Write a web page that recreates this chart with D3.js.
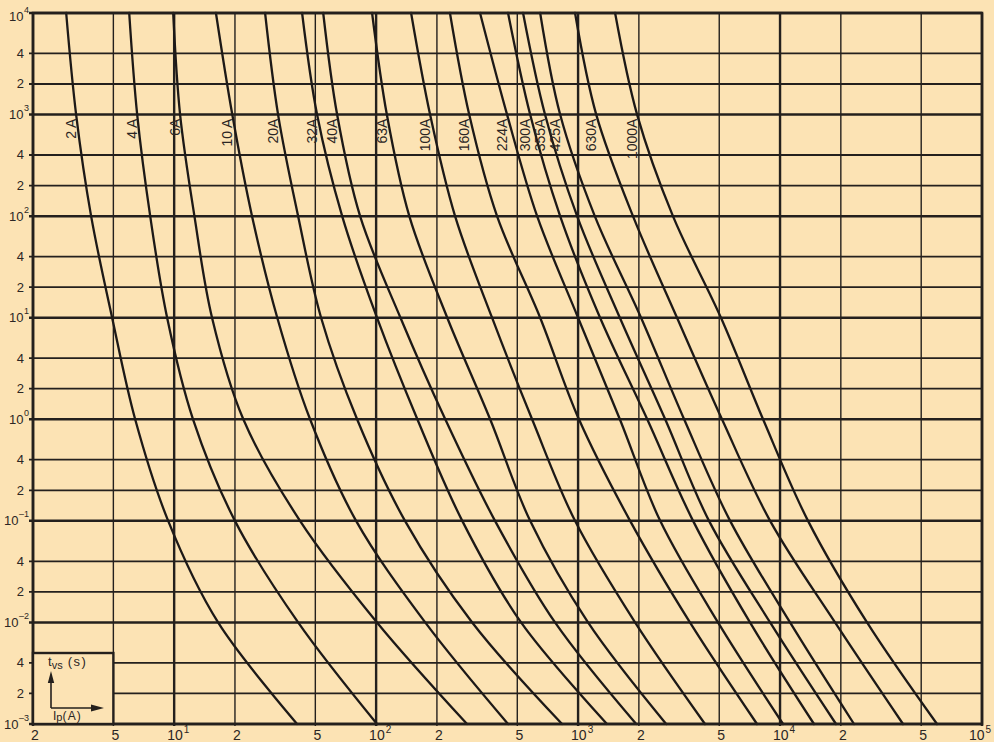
<!DOCTYPE html>
<html>
<head>
<meta charset="utf-8">
<script src="https://cdn.jsdelivr.net/npm/d3@7"></script>
<style>
  html, body { margin: 0; padding: 0; background: #fce3b4; }
  svg { display: block; }
  .lbl { font-family: "Liberation Sans", Arial, sans-serif; fill: #2b2624; }
  .curve { fill: none; stroke: #1d1917; stroke-width: 2.3; stroke-linejoin: round; stroke-linecap: round; }
</style>
</head>
<body>
<div id="chart"></div>
<script>
var times = [1e4, 1e3, 1e2, 1e1, 1, 0.1, 0.01, 0.001];

// prearcing current (A) of each fuse at those times
var fuse2A    = [2.92, 3.27, 3.88, 4.93, 6.41, 9.34, 16.5, 40.6];
var fuse4A    = [5.99, 6.56, 7.61, 9.23, 12.4, 20.0, 41.1, 101];
var fuse6A    = [9.89, 10.7, 12.6, 15.4, 22.0, 42.0, 101, 282];
var fuse10A   = [16.1, 19.4, 24.3, 32.4, 47.1, 79.6, 175, 450];
var fuse20A   = [28.2, 32.7, 41.1, 53.4, 80.5, 139, 299, 833];
var fuse32A   = [43.0, 51.0, 67.9, 101, 160, 267, 522, 1390];
var fuse40A   = [54.7, 64.1, 83.3, 132, 220, 388, 769, 1940];
var fuse63A   = [95.5, 113, 146, 225, 367, 579, 1120, 2730];
var fuse100A  = [149, 185, 246, 375, 592, 966, 1915, 4250];
var fuse160A  = [232, 289, 397, 649, 1010, 1810, 3580, 7690];
var fuse224A  = [327, 445, 627, 1000, 1610, 2550, 4930, 10350];
var fuse300A  = [450, 579, 815, 1285, 2200, 3710, 7100, 14730];
var fuse355A  = [534, 686, 989, 1610, 2700, 4450, 8930, 18930];
var fuse425A  = [649, 815, 1210, 2050, 3350, 5660, 11210, 23240];
var fuse630A  = [966, 1230, 1870, 3090, 5160, 8930, 18720, 40630];
var fuse1000A = [1525, 1960, 2950, 5100, 8240, 13760, 26960, 59880];

var ratings = ["2 A", "4 A", "6A", "10 A", "20A", "32A", "40A", "63A", "100A",
               "160A", "224A", "300A", "355A", "425A", "630A", "1000A"];
var fuseValues = [fuse2A, fuse4A, fuse6A, fuse10A, fuse20A, fuse32A, fuse40A, fuse63A, fuse100A,
                  fuse160A, fuse224A, fuse300A, fuse355A, fuse425A, fuse630A, fuse1000A];

// grid / tick values
var xGrid = [2, 5, 10, 20, 50, 100, 200, 500, 1000, 2000, 5000, 1e4, 2e4, 5e4, 1e5];
var yGrid = [1e-3, 2e-3, 4e-3, 1e-2, 2e-2, 4e-2, 1e-1, 2e-1, 4e-1, 1, 2, 4,
             10, 20, 40, 100, 200, 400, 1000, 2000, 4000, 1e4];

drawChart();

function drawChart() {
  var width = 994, height = 742;
  var left = 33, right = 982, top = 13, bottom = 724;
  var ink = "#24201d";

  var svg = d3.select("#chart").append("svg")
    .attr("width", width).attr("height", height);

  svg.append("rect").attr("width", width).attr("height", height).attr("fill", "#fce3b4");

  var x = d3.scaleLog().domain([2, 1e5]).range([left, right]);
  var y = d3.scaleLog().domain([1e-3, 1e4]).range([bottom, top]);

  function isDecade(v) {
    var e = Math.log10(v);
    return Math.abs(e - Math.round(e)) < 1e-6;
  }
  function expOf(v) { return Math.round(Math.log10(v)); }
  function mant(v) { return Math.round(v / Math.pow(10, Math.floor(Math.log10(v) + 1e-9))); }

  // vertical grid
  svg.append("g").selectAll("line").data(xGrid).enter().append("line")
    .attr("x1", function(d) { return x(d); })
    .attr("x2", function(d) { return x(d); })
    .attr("y1", top).attr("y2", bottom + 2)
    .attr("stroke", ink)
    .attr("stroke-width", function(d) { return (isDecade(d) || d === 2) ? 2.4 : 1.4; });

  // horizontal grid
  svg.append("g").selectAll("line").data(yGrid).enter().append("line")
    .attr("x1", left - 4).attr("x2", right)
    .attr("y1", function(d) { return y(d); })
    .attr("y2", function(d) { return y(d); })
    .attr("stroke", ink)
    .attr("stroke-width", function(d) { return isDecade(d) ? 2.5 : 1.8; });

  // fuse curves
  var line = d3.line()
    .x(function(d) { return x(d[0]); })
    .y(function(d) { return y(d[1]); })
    .curve(d3.curveCatmullRom.alpha(0.5));

  var series = ratings.map(function(r, k) {
    return { name: r, pts: fuseValues[k].map(function(v, j) { return [v, times[j]]; }) };
  });

  svg.append("g").selectAll("path").data(series).enter().append("path")
    .attr("class", "curve")
    .attr("d", function(d) { return line(d.pts); });

  // rating labels, written upwards just under the 10^3 line, left of each curve
  svg.append("g").selectAll("text").data(series).enter().append("text")
    .attr("class", "lbl")
    .attr("font-size", 14)
    .attr("text-anchor", "end")
    .attr("dy", "0.35em")
    .attr("transform", function(d) {
      return "translate(" + (x(d.pts[1][0]) - 5) + "," + (y(1e3) + 4) + ") rotate(-90)";
    })
    .text(function(d) { return d.name; });

  // x tick labels
  var xl = svg.append("g").selectAll("text").data(xGrid).enter().append("text")
    .attr("class", "lbl")
    .attr("font-size", 14)
    .attr("y", 740)
    .attr("x", function(d) { return isDecade(d) ? x(d) - (d === 1e5 ? 13 : 7) : x(d) + 2; })
    .attr("text-anchor", function(d) { return isDecade(d) ? "start" : "middle"; });
  xl.each(function(d) {
    var t = d3.select(this);
    if (isDecade(d)) {
      t.append("tspan").text("10");
      t.append("tspan").attr("font-size", 10).attr("dx", 1).attr("dy", -7).text(expOf(d));
    } else {
      t.text(mant(d));
    }
  });

  // y tick labels
  var yl = svg.append("g").selectAll("text").data(yGrid).enter().append("text")
    .attr("class", "lbl")
    .attr("font-size", 13)
    .attr("y", function(d) { return y(d) + 4.5 + (d === 1e4 ? 3 : 0); })
    .attr("x", function(d) { return isDecade(d) ? (d < 1 ? 4 : 9) : 24; })
    .attr("text-anchor", function(d) { return isDecade(d) ? "start" : "end"; });
  yl.each(function(d) {
    var t = d3.select(this);
    if (isDecade(d)) {
      var e = expOf(d);
      t.append("tspan").text("10");
      t.append("tspan").attr("font-size", 9).attr("dx", 0.5).attr("dy", -8)
        .text(e < 0 ? "\u2013" + (-e) : e);
    } else {
      t.text(mant(d));
    }
  });

  // frame
  svg.append("rect")
    .attr("x", left).attr("y", top)
    .attr("width", right - left).attr("height", bottom - top)
    .attr("fill", "none").attr("stroke", ink).attr("stroke-width", 2.6);

  // axis key box in the lower left corner
  var bx = x(5), by = y(5e-3);
  svg.append("rect")
    .attr("x", left).attr("y", by)
    .attr("width", bx - left).attr("height", bottom - by)
    .attr("fill", "#fce3b4").attr("stroke", ink).attr("stroke-width", 2.4);

  var ox = left + 18, oy = bottom - 16;
  svg.append("line").attr("x1", ox).attr("y1", oy).attr("x2", ox).attr("y2", oy - 30)
    .attr("stroke", ink).attr("stroke-width", 1.6);
  svg.append("path")
    .attr("d", "M" + ox + "," + (oy - 37) + "L" + (ox - 3.2) + "," + (oy - 25) + "L" + (ox + 3.2) + "," + (oy - 25) + "Z")
    .attr("fill", ink);
  svg.append("line").attr("x1", ox).attr("y1", oy).attr("x2", ox + 42).attr("y2", oy)
    .attr("stroke", ink).attr("stroke-width", 1.6);
  svg.append("path")
    .attr("d", "M" + (ox + 53) + "," + oy + "L" + (ox + 40) + "," + (oy - 3.5) + "L" + (ox + 40) + "," + (oy + 3.5) + "Z")
    .attr("fill", ink);

  var tv = svg.append("text").attr("class", "lbl").attr("font-size", 13)
    .attr("x", left + 15).attr("y", by + 13);
  tv.append("tspan").text("t");
  tv.append("tspan").attr("font-size", 11).attr("dy", 3).text("vs");
  tv.append("tspan").attr("dy", -3).attr("letter-spacing", 1.5).text(" (s)");

  var ip = svg.append("text").attr("class", "lbl").attr("font-size", 12)
    .attr("x", left + 20).attr("y", bottom - 4);
  ip.append("tspan").text("I");
  ip.append("tspan").attr("font-size", 11).attr("dy", 1).text("p");
  ip.append("tspan").attr("dy", -1).attr("letter-spacing", 1.2).text("(A)");
}
</script>
</body>
</html>
